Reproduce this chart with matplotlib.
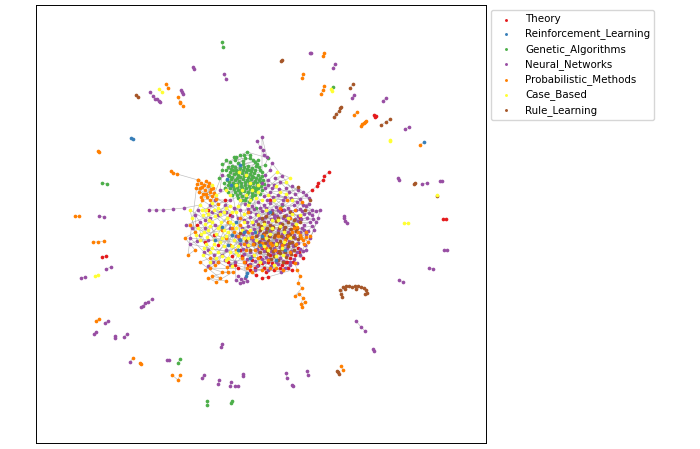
import matplotlib
matplotlib.use("Agg")
import matplotlib.pyplot as plt

# ---- categories & colours (Set1) ----
categories = ["Theory", "Reinforcement_Learning", "Genetic_Algorithms", "Neural_Networks",
              "Probabilistic_Methods", "Case_Based", "Rule_Learning"]
colors = ["#e41a1c", "#377eb8", "#4daf4a", "#984ea3", "#ff7f00", "#ffff33", "#a65628"]

# ---- central component: layout positions per category ----
blob_green = [(234,157),(243,161),(238,163),(250,158),(255,162),(228,167),(232,166),(236,170),(240,168),
    (244,167),(248,166),(252,168),(256,166),(260,170),(230,172),(234,174),(238,175),(242,173),(246,172),
    (250,174),(254,173),(258,175),(262,176),(231,179),(235,180),(239,181),(243,179),(247,180),(251,179),
    (255,181),(259,180),(228,185),(233,186),(237,187),(241,186),(245,185),(249,186),(253,187),(257,185),
    (261,186),(235,192),(240,193),(244,191),(248,192),(252,193),(256,191),(238,198),(246,197),(251,199),
    (226,160),(222,170),(219,178),(265,165),(268,158),(247,152),(240,155),(262,190),(228,192),(224,183),
    (245,200),(233,170),(249,170),(237,178),(253,177),(241,190),(229,176),(255,188),(243,164),(258,160),
    (236,184),(250,184),(256,208),(268,230),(282,205),
    (230,162),(235,160),(245,158),(253,160),(257,164),(226,170),(231,169),(235,167),(239,171),(243,170),
    (247,169),(251,171),(255,170),(259,167),(262,172),(228,175),(232,177),(236,173),(240,177),(244,176),
    (248,177),(252,176),(256,178),(260,178),(229,182),(233,183),(237,184),(241,183),(245,182),(249,182),
    (253,183),(257,183),(261,182),(230,188),(234,189),(238,190),(242,188),(246,188),(250,189),(254,190),
    (258,188),(232,195),(237,195),(242,196),(247,194),(252,196),(255,195),(242,200),(249,202),(227,180),
    (263,180),(264,184),(225,188),(260,194),(236,157),(250,155),(244,155),(222,164)]
blob_purple = [(262,183),(268,180),(274,185),(280,182),(286,188),(292,186),(298,190),(270,192),(278,195),
    (285,197),(264,196),(291,198),(300,199),(306,195),(275,178),(282,176),
    (245,204),(252,206),(258,202),(264,205),(270,203),(276,207),(282,204),(288,208),(294,205),(300,209),
    (306,206),(312,210),(250,212),(256,214),(262,211),(268,213),(274,215),(280,212),(286,215),(292,213),
    (298,216),(304,214),(316,211),(240,210),(234,208),
    (238,218),(244,220),(250,217),(256,221),(262,219),(268,222),(274,218),(280,223),(286,220),(292,224),
    (298,221),(304,225),(310,222),(242,228),(248,226),(254,229),(260,227),(266,229),(272,226),(278,230),
    (284,227),(290,229),(296,230),(302,228),(308,231),
    (236,236),(243,234),(250,238),(257,235),(264,239),(270,236),(276,240),(283,237),(289,241),(295,238),
    (240,244),(247,246),(254,243),(261,247),(268,245),(274,248),(281,244),(287,248),(293,246),(300,249),
    (244,254),(252,256),(259,252),(266,257),(273,254),(280,258),(287,255),(294,259),(250,264),(257,266),
    (264,262),(271,266),(278,264),(285,268),(290,265),
    (190,244),(197,241),(195,215),(200,222),(205,228),(210,218),(215,225),(200,235),(208,250),(214,255),
    (192,228),(186,225),(220,212),(225,205),(230,200),(215,200),(210,205),
    (222,175),(220,190),(268,185),(265,175),(270,170),(272,163),
    (312,215),(316,222),(314,230),(310,238),(305,245),(300,255),(306,250),(318,218),(320,210),
    (225,260),(230,265),(235,262),(222,255),(213,262),(208,266),
    (265,188),(272,188),(279,189),(289,192),(295,194),(303,192),(309,198),(267,200),(273,197),(283,200),
    (297,202),(303,205),(309,204),(248,209),(254,209),(260,208),(266,208),(272,210),(278,210),(284,210),
    (290,211),(296,210),(302,211),(309,213),(247,222),(253,224),(259,218),(265,217),(271,219),(277,216),
    (283,218),(289,217),(295,219),(301,219),(307,218),(313,219),(246,231),(252,233),(258,232),(264,233),
    (270,231),(276,235),(282,234),(288,232),(294,235),(300,232),(306,234),(312,226),(239,239),(246,242),
    (253,240),(260,241),(267,242),(273,243),(280,247),(286,244),(292,243),(298,243),(304,230),(243,249),
    (250,252),(257,249),(264,251),(271,251),(277,251),(284,252),(291,251),(297,252),(303,251),(247,259),
    (255,261),(262,259),(269,259),(276,262),(283,261),(290,262),(297,263),(255,270),(268,270),(281,272),
    (218,215),(212,212),(205,220),(198,210),(226,212),(232,216),(230,228),(226,250),(218,262),(204,252),
    (190,238),(208,240)]
blob_brown = [(258,224),(264,222),(270,225),(276,221),(282,224),(288,222),(294,226),(260,230),(266,232),
    (272,229),(278,233),(284,230),(290,234),(296,231),(262,238),(268,240),(274,237),(280,241),(286,238),
    (292,242),(298,239),(264,246),(270,248),(276,245),(282,249),(288,246),(294,250),(268,254),(274,256),
    (280,253),(286,257),(256,236),(254,244),(300,236),(266,216),(272,213),(284,216),(290,212),(300,222),
    (305,210),(310,200),(298,187),(240,233),(246,240),(250,250),(260,252),(278,260),
    (261,226),(267,228),(273,227),(279,228),(285,227),(291,229),(297,228),(263,234),(269,236),(275,235),
    (281,236),(287,235),(293,237),(259,242),(265,243),(271,243),(277,243),(283,244),(289,243),(295,245),
    (267,251),(273,251),(279,251),(285,252),(291,254),(271,259),(283,262),(262,218),(278,218),(294,220)]
blob_orange = [(198,180),(201,183),(204,185),(200,188),(205,190),(208,186),(210,192),(203,194),(207,197),
    (212,196),(199,192),(206,181),(213,188),(216,199),(202,200),
    (240,225),(248,232),(255,250),(262,243),(252,237),(258,258),(268,260),(275,250),(282,245),(290,252),
    (296,244),(300,235),(303,240),(306,237),(298,232),(308,242),(294,228),(288,236),(278,236),(270,243),
    (264,235),(246,250),(242,258),(236,250),(230,245),(226,238),(222,230),(232,228),(240,218),(248,212),
    (290,218),(295,210),(302,202),(287,200),(280,208),
    (205,270),(215,265),(218,262),(227,267),(228,272),(212,276),(220,278),(200,262),(210,258),
    (247,268),(252,272),(262,270),(276,268),
    (190,225),(195,232),(185,238),(195,250),(188,255),
    (197,184),(202,187),(209,183),(211,189),(206,194),(201,197),(214,193),(218,204),(210,200),(196,188),
    (304,244),(301,238),(306,232),(310,236),(297,227),(292,232),(285,240),(272,245),(266,248),(259,246),
    (253,244),(244,244),(238,236),(234,232),(228,222),(244,262),(250,266),(270,268),(283,270),(210,268),
    (222,272),(233,272),(216,282),(208,278),(226,281)]
blob_red = [(245,262),(252,260),(258,265),(260,257),(264,268),(268,262),(272,263),(277,260),(282,265),
    (285,262),(290,258),(295,255),(270,255),(278,252),(288,268),(250,270),(256,275),(238,268),(232,256),
    (240,250),(298,248),(303,258),(262,248),
    (214,235),(208,210),(225,200),(230,215),(218,245),(282,210),(270,200),(300,218),(205,242),(197,225),
    (248,265),(255,268),(262,263),(266,272),(274,270),(280,268),(287,262),(293,262),(299,252),(242,256),
    (235,265),(228,262),(292,270),(268,277),(262,278)]
blob_yellow = [(200,205),(206,210),(212,203),(218,208),(224,212),(230,206),(203,215),(209,220),(215,216),
    (221,222),(227,218),(233,224),(198,228),(204,232),(210,226),(216,234),(222,238),(228,232),(234,240),
    (200,240),(206,244),(212,248),(218,252),(224,246),(230,252),(203,255),(210,262),(216,258),(238,246),
    (244,238),(236,212),(240,200),(246,195),(252,190),(256,198),(262,200),(248,205),(244,214),(252,222),
    (258,215),(266,210),(274,200),(280,192),(286,194),(292,200),(250,230),(256,240),(262,228),(270,234),
    (276,244),(284,242),(290,238),(280,226),(268,250),(260,262),(226,260),(232,266),(238,255),(242,190),
    (236,185),(230,195),(226,190),(216,195),(212,185),(192,218),(196,235),(190,210),(248,245),(254,255),
    (300,215),(296,224),(288,218),(272,220),(264,246),(274,265),(283,255),(250,183),(246,175),(239,172),
    (258,185),(220,226),(207,237),(277,172),(290,178),
    (202,210),(208,214),(214,210),(220,214),(226,208),(232,212),(205,224),(212,222),(218,228),(224,230),
    (230,222),(236,228),(201,234),(208,230),(214,240),(220,242),(226,236),(232,246),(236,252),(204,248),
    (210,252),(214,244),(222,256),(228,258),(242,230),(248,238),(256,232),(264,224),(272,228),(278,220),
    (284,232),(292,214),(266,238),(276,256),(282,248),(244,222),(238,206),(250,200),(258,192),(268,195),
    (276,186),(286,182)]
blob_blue = [(227,179),(240,165),(231,185),(247,273),(246,276),(240,240),(238,250),(250,258),(232,235),
    (260,245),(215,240),(222,227),(270,212),(255,232),(285,250),(244,232),(262,236),(276,260),(236,222),
    (228,245)]

blob_nodes = [blob_red, blob_blue, blob_green, blob_purple, blob_orange, blob_yellow, blob_brown]

# ---- spokes hanging off the central component: (category, path, anchor in blob) ----
spokes = [
    (4, [(171,171),(173,173),(177,174),(198,180)], (220,200)),
    (3, [(149,210),(156,210),(163,210),(173,209),(184,208)], (200,205)),
    (0, [(329,172),(324,176),(323,180),(318,183),(317,186),(312,190)], (290,205)),
    (3, [(257,141),(260,147),(263,150),(264,155),(267,157),(262,137)], (262,175)),
    (4, [(302,307),(305,302),(301,304),(303,298),(299,294),(295,296),(302,288),(298,283),(300,276),
         (297,270),(295,263)], (296,250)),
    (3, [(238,276),(241,279),(243,282),(245,278),(247,281),(240,283),(236,280)], (235,262)),
]

# ---- small separate components: list of nodes (x, y, category index), linked in order ----
components = [
    [(222,42,2),(223,47,2)], [(193,67,3),(194,69,3)], [(224,74,3),(226,79,3)], [(166,84,4),(168,88,4)],
    [(159,89,5),(162,92,5)], [(136,95,6),(138,97,6)],
    [(150,92,3),(153,96,3),(155,99,3),(157,99,3),(159,101,3),(160,102,3)],
    [(181,90,3),(182,92,3),(183,94,3)], [(178,97,4),(180,102,4),(180,103,4),(183,106,4)],
    [(131,138,1),(133,139,1)], [(98,151,4),(99,152,4)],
    [(281,61,6),(282,60,6)], [(310,53,3),(311,53,3)], [(324,53,4),(323,56,4)], [(335,64,3),(333,68,3)],
    [(303,74,4),(302,78,4)], [(324,86,4),(323,90,4),(321,94,4)], [(333,87,2),(331,89,5),(332,91,5)],
    [(353,84,6),(350,88,6)], [(354,95,3),(352,98,3)],
    [(341,107,6),(340,108,6),(339,111,6),(336,114,6),(334,117,6)], [(357,112,4),(354,115,4)],
    [(386,98,3),(383,101,3)], [(374,115,0),(375,117,0),(376,116,0)],
    [(366,121,4),(365,122,4),(364,123,4),(362,124,4),(361,126,4)], [(390,119,6),(386,122,6),(381,125,6)],
    [(409,127,3),(405,129,3)], [(390,140,5),(390,141,5)], [(424,142,1),(420,145,4)],
    [(102,183,2),(107,184,2)], [(75,216,4),(79,216,4)], [(99,216,3),(104,217,3)],
    [(93,242,4),(98,242,4),(104,241,4)], [(102,257,0),(106,256,0)], [(106,269,3),(111,267,3)],
    [(81,278,3),(85,277,3)], [(95,276,5),(98,275,5)],
    [(141,307,3),(143,306,3),(145,303,3),(148,302,3),(152,299,3)],
    [(96,321,4),(99,319,4)], [(105,323,3),(108,321,3)], [(94,334,3),(96,332,3)], [(115,336,3),(115,338,3)],
    [(124,337,3),(127,334,3)], [(222,344,3),(221,347,3)], [(130,362,3),(133,358,4)],
    [(140,363,4),(141,364,4)], [(167,360,3),(169,360,3)], [(180,359,2),(178,363,2)],
    [(172,375,4),(178,380,4),(180,375,4)], [(202,378,3),(204,375,3)], [(219,380,3),(218,384,3)],
    [(231,382,3),(230,386,3)], [(235,386,3),(238,386,3)], [(243,374,3),(243,376,3)],
    [(207,401,2),(207,405,2)], [(232,401,2),(231,403,2)],
    [(356,321,3),(361,327,3),(365,331,3)], [(373,349,3),(374,351,3)], [(286,373,3),(287,378,3)],
    [(292,385,3),(293,386,3)], [(307,371,3),(308,375,3)], [(337,371,6),(338,372,6),(339,374,6)],
    [(341,366,4),(343,370,4)],
    [(398,178,3),(399,180,3)], [(414,184,6),(415,183,6)], [(422,184,3),(427,183,3)],
    [(440,181,3),(442,181,3)], [(437,195,5),(437,196,6)],
    [(344,216,3),(344,218,3),(345,221,3),(347,223,3)], [(404,223,5),(408,223,5)],
    [(443,219,0),(446,219,0)], [(444,250,3),(447,250,3)], [(429,268,3),(433,269,3)],
    [(399,280,3),(403,282,3)],
    [(340,290,6),(341,294,6),(342,297,6),(343,287,6),(345,289,6),(346,286,6),(349,286,6),(352,287,6),
     (355,286,6),(356,289,6),(358,286,6),(361,287,6),(364,288,6),(366,290,6),(367,293,6),(365,294,6)],
]

# ---------------------------------------------------------------------------
fig = plt.figure(figsize=(7.0, 4.49), dpi=100)
ax = fig.add_axes([36/700, 6/449, 450/700, 438/449])

edge_kw = dict(color="#b0b0b0", lw=0.45, alpha=0.85, zorder=1)

# edges: central component (chained within each category list)
for pts in blob_nodes:
    ax.plot([p[0] for p in pts], [p[1] for p in pts], **edge_kw)
for cat, path, anchor in spokes:
    ax.plot([p[0] for p in path] + [anchor[0]], [p[1] for p in path] + [anchor[1]], **edge_kw)
for comp in components:
    ax.plot([p[0] for p in comp], [p[1] for p in comp], **edge_kw)

# gather nodes per category
node_x = {i: [] for i in range(len(categories))}
node_y = {i: [] for i in range(len(categories))}
for i, pts in enumerate(blob_nodes):
    node_x[i] += [p[0] for p in pts]
    node_y[i] += [p[1] for p in pts]
for cat, path, anchor in spokes:
    node_x[cat] += [p[0] for p in path]
    node_y[cat] += [p[1] for p in path]
for comp in components:
    for x, y, c in comp:
        node_x[c].append(x)
        node_y[c].append(y)

draw_order = [2, 0, 3, 6, 4, 5, 1]
handles = {}
for i in draw_order:
    handles[i] = ax.scatter(node_x[i], node_y[i], s=7, c=colors[i], linewidths=0,
                            label=categories[i], zorder=2)

ax.set_xlim(36, 486)
ax.set_ylim(443, 5)
ax.set_xticks([])
ax.set_yticks([])
for sp in ax.spines.values():
    sp.set_linewidth(0.7)

ax.legend([handles[i] for i in range(len(categories))], categories,
          loc="upper left", bbox_to_anchor=(1.0, 1.0), fontsize=7.4, markerscale=0.8,
          labelspacing=0.42, handletextpad=0.9, frameon=True, borderaxespad=0.5)

fig.savefig("out.png", dpi=100)
